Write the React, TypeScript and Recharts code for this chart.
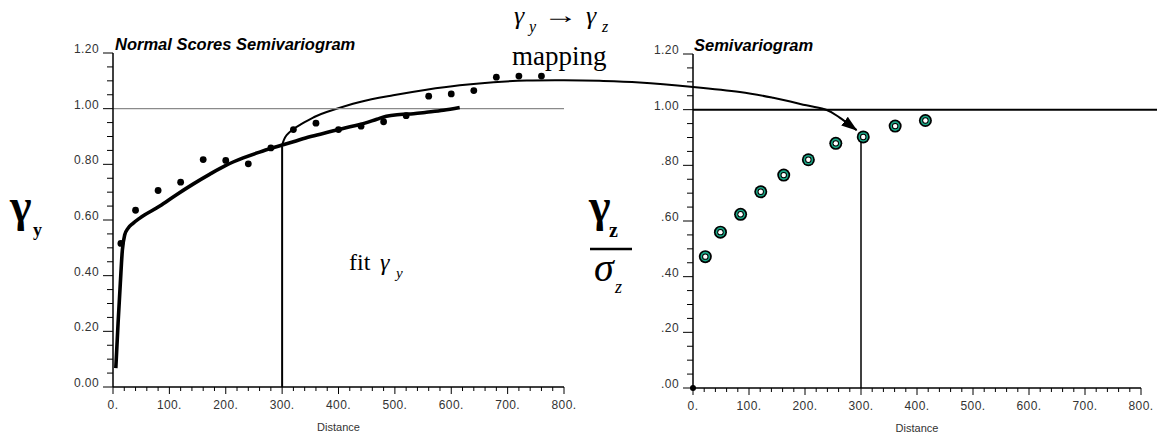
import React from 'react';
import * as Recharts from 'recharts';
import { ComposedChart, Line, Scatter, XAxis, YAxis, ReferenceLine, Customized } from 'recharts';

// distance ticks every 20, labels every 100
const distanceTicks = Array.from({ length: 41 }, (_, i) => i * 20);
const gammaTicks = Array.from({ length: 25 }, (_, i) => i * 0.05);

// experimental normal scores semivariogram
const nsLags = [14, 40, 80, 120, 160, 200, 240, 280, 320, 360, 400, 440, 480, 520, 560, 600, 640, 680, 720, 760];
const nsGamma = [0.516, 0.635, 0.706, 0.736, 0.817, 0.814, 0.802, 0.859, 0.925, 0.948, 0.925, 0.937, 0.953, 0.975, 1.045, 1.053, 1.065, 1.113, 1.117, 1.117];

// fitted model gamma_y
const fitLags = [5, 9, 13, 16.6, 20.7, 26.6, 35.5, 47, 83, 112, 142, 172, 201, 231, 260, 290, 320, 349, 379, 408, 438, 468, 485, 509, 533, 556, 586, 615];
const fitGamma = [0.068, 0.229, 0.373, 0.492, 0.546, 0.57, 0.588, 0.606, 0.65, 0.69, 0.729, 0.765, 0.797, 0.823, 0.844, 0.863, 0.881, 0.899, 0.914, 0.929, 0.943, 0.962, 0.973, 0.979, 0.982, 0.987, 0.994, 1.004];

// mapping arrow, in units of the left chart
const mapLags = [299, 303, 308, 319.5, 331, 355, 379, 438, 497, 556, 615, 675, 734, 800, 863, 934, 1029, 1112, 1171, 1230, 1266, 1289, 1319];
const mapGamma = [0.863, 0.887, 0.905, 0.926, 0.941, 0.968, 0.988, 1.024, 1.048, 1.068, 1.084, 1.095, 1.101, 1.102, 1.1, 1.094, 1.078, 1.06, 1.039, 1.012, 0.995, 0.968, 0.923];

// original units semivariogram (standardized)
const zLags = [22, 49, 85, 121, 162, 206, 255, 304, 361, 415];
const zGamma = [0.472, 0.56, 0.624, 0.705, 0.765, 0.82, 0.879, 0.902, 0.941, 0.961];

const X_MAX = 800;
const Y_MAX = 1.2;
const LEFT_PLOT = { x: 113, y: 53, width: 451, height: 334 };

const nsData = nsLags.map((x, i) => ({ x, y: nsGamma[i] }));
const fitData = fitLags.map((x, i) => ({ x, y: fitGamma[i] }));
const zData = zLags.map((x, i) => ({ x, y: zGamma[i] }));
const zOrigin = [{ x: 0, y: 0 }];

const sans = '"Liberation Sans", Arial, Helvetica, sans-serif';
const serif = '"Liberation Serif", "Times New Roman", serif';

const isMajorX = (v: number) => Math.round(v) % 100 === 0;
const isMajorY = (v: number) => Math.round(v * 100) % 20 === 0;

const XTick = (props: any) => {
  const { x, y, payload } = props;
  const v = payload.value;
  const major = isMajorX(v);
  return (
    <g>
      <line x1={x} x2={x} y1={y} y2={y + (major ? 7 : 4)} stroke="#000" strokeWidth={1} />
      {major && (
        <text x={x} y={y + 22} textAnchor="middle" fontFamily={sans} fontSize={12} fill="#333" letterSpacing={0.4}>
          {`${Math.round(v)}.`}
        </text>
      )}
    </g>
  );
};

const makeYTick = (leadingZero: boolean) => (props: any) => {
  const { x, y, payload } = props;
  const v = payload.value;
  const major = isMajorY(v);
  let label = v.toFixed(2);
  if (!leadingZero && v < 1) label = label.slice(1);
  return (
    <g>
      <line x1={x - (major ? 10 : 6)} x2={x} y1={y} y2={y} stroke="#000" strokeWidth={1} />
      {major && (
        <text x={x - 14} y={y} textAnchor="end" fontFamily={sans} fontSize={12} fill="#333" letterSpacing={0.4}>
          {label}
        </text>
      )}
    </g>
  );
};

const Dot = (props: any) => <circle cx={props.cx} cy={props.cy} r={3.4} fill="#000" />;
const OriginDot = (props: any) => <circle cx={props.cx} cy={props.cy} r={3} fill="#000" />;

const Ring = (props: any) => {
  const { cx, cy } = props;
  return (
    <g>
      <circle cx={cx} cy={cy} r={6.5} fill="#000" />
      <circle cx={cx} cy={cy} r={4.8} fill="#1aa887" />
      <circle cx={cx} cy={cy} r={3.2} fill="#000" />
      <circle cx={cx} cy={cy} r={2.2} fill="#fff" />
    </g>
  );
};

const usePlotAreaSafe: () => any = (Recharts as any).usePlotArea ?? (() => null);

// catmull-rom through points
const smoothPath = (pts: number[][]) => {
  let d = `M${pts[0][0]},${pts[0][1]}`;
  for (let i = 0; i < pts.length - 1; i++) {
    const p0 = pts[i - 1] || pts[i];
    const p1 = pts[i];
    const p2 = pts[i + 1];
    const p3 = pts[i + 2] || p2;
    const c1 = [p1[0] + (p2[0] - p0[0]) / 6, p1[1] + (p2[1] - p0[1]) / 6];
    const c2 = [p2[0] - (p3[0] - p1[0]) / 6, p2[1] - (p3[1] - p1[1]) / 6];
    d += ` C${c1[0]},${c1[1]} ${c2[0]},${c2[1]} ${p2[0]},${p2[1]}`;
  }
  return d;
};

const MappingArrow = () => {
  const area = usePlotAreaSafe() || LEFT_PLOT;
  const sx = (v: number) => area.x + (v / X_MAX) * area.width;
  const sy = (v: number) => area.y + area.height - (v / Y_MAX) * area.height;
  const pts = mapLags.map((v, i) => [sx(v), sy(mapGamma[i])]);
  return (
    <g>
      <defs>
        <marker id="mapHead" markerWidth={16} markerHeight={11} refX={15} refY={5.5} orient="auto" markerUnits="userSpaceOnUse">
          <path d="M0,0 L16,5.5 L0,11 z" fill="#000" />
        </marker>
      </defs>
      <path d={smoothPath(pts)} fill="none" stroke="#000" strokeWidth={2} markerEnd="url(#mapHead)" />
    </g>
  );
};

const axisLine = { stroke: '#000', strokeWidth: 1.5 };

const distanceLabel = { value: 'Distance', position: 'insideBottom', offset: 6, fontFamily: sans, fontSize: 11, fill: '#333' };

export default function App() {
  return (
    <div style={{ position: 'absolute', left: 0, top: 0, width: 1157, height: 444, background: '#fff', overflow: 'hidden' }}>
      <style>{`.recharts-surface { overflow: visible !important; } .recharts-wrapper { overflow: visible !important; }`}</style>

      <div style={{ position: 'absolute', left: 0, top: 0 }}>
        <ComposedChart width={600} height={444} margin={{ top: 53, right: 36, bottom: 7, left: 53 }}>
          <XAxis
            dataKey="x"
            type="number"
            domain={[0, X_MAX]}
            ticks={distanceTicks}
            interval={0}
            tick={<XTick />}
            tickLine={false}
            tickSize={0}
            tickMargin={0}
            axisLine={axisLine}
            height={50}
            label={distanceLabel}
          />
          <YAxis
            dataKey="y"
            type="number"
            domain={[0, Y_MAX]}
            ticks={gammaTicks}
            interval={0}
            tick={makeYTick(true)}
            tickLine={false}
            tickSize={0}
            tickMargin={0}
            axisLine={axisLine}
            width={60}
          />
          <ReferenceLine y={1} stroke="#8a8a8a" strokeWidth={1.2} />
          <ReferenceLine segment={[{ x: 300, y: 0 }, { x: 300, y: 0.863 }]} stroke="#000" strokeWidth={2} />
          <Line data={fitData} dataKey="y" type="monotone" stroke="#000" strokeWidth={3.6} dot={false} isAnimationActive={false} />
          <Scatter data={nsData} dataKey="y" shape={Dot} isAnimationActive={false} />
          <Customized component={MappingArrow} />
        </ComposedChart>
      </div>

      <div style={{ position: 'absolute', left: 600, top: 0 }}>
        <ComposedChart width={557} height={444} margin={{ top: 54, right: 16, bottom: 6, left: 33 }}>
          <XAxis
            dataKey="x"
            type="number"
            domain={[0, X_MAX]}
            ticks={distanceTicks}
            interval={0}
            tick={<XTick />}
            tickLine={false}
            tickSize={0}
            tickMargin={0}
            axisLine={axisLine}
            height={50}
            label={distanceLabel}
          />
          <YAxis
            dataKey="y"
            type="number"
            domain={[0, Y_MAX]}
            ticks={gammaTicks}
            interval={0}
            tick={makeYTick(false)}
            tickLine={false}
            tickSize={0}
            tickMargin={0}
            axisLine={axisLine}
            width={60}
          />
          <ReferenceLine segment={[{ x: 0, y: 1 }, { x: 830, y: 1 }]} ifOverflow="visible" stroke="#000" strokeWidth={2} />
          <ReferenceLine segment={[{ x: 300, y: 0 }, { x: 300, y: 0.902 }]} stroke="#000" strokeWidth={1.5} />
          <Scatter data={zData} dataKey="y" shape={Ring} isAnimationActive={false} />
          <Scatter data={zOrigin} dataKey="y" shape={OriginDot} isAnimationActive={false} />
        </ComposedChart>
      </div>

      <svg width={1157} height={444} style={{ position: 'absolute', left: 0, top: 0, pointerEvents: 'none' }}>
        <text x={115} y={50} fontFamily={sans} fontSize={16.5} fontWeight="bold" fontStyle="italic" fill="#000">Normal Scores Semivariogram</text>
        <text x={694} y={51} fontFamily={sans} fontSize={16.5} fontWeight="bold" fontStyle="italic" fill="#000">Semivariogram</text>

        <text x={10} y={221} fontFamily={serif} fontSize={46} fontWeight="bold" fill="#000">γ</text>
        <text x={33} y={236} fontFamily={serif} fontSize={18} fontWeight="bold" fill="#000">y</text>

        <text x={589} y={221} fontFamily={serif} fontSize={46} fontWeight="bold" fill="#000">γ</text>
        <text x={609} y={237} fontFamily={serif} fontSize={20} fontWeight="bold" fill="#000">z</text>
        <line x1={590} x2={632} y1={249} y2={249} stroke="#000" strokeWidth={2.5} />
        <text x={594} y={281} fontFamily={serif} fontSize={40} fontStyle="italic" fill="#000">σ</text>
        <text x={615} y={293} fontFamily={serif} fontSize={18} fontStyle="italic" fill="#000">z</text>

        <text x={514} y={24} fontFamily={serif} fontSize={26} fontStyle="italic" fill="#000">γ</text>
        <text x={529} y={32} fontFamily={serif} fontSize={16} fontStyle="italic" fill="#000">y</text>
        <text x={543} y={23} fontFamily={serif} fontSize={24} textLength={35} lengthAdjust="spacingAndGlyphs" fill="#000">→</text>
        <text x={586} y={24} fontFamily={serif} fontSize={26} fontStyle="italic" fill="#000">γ</text>
        <text x={602} y={32} fontFamily={serif} fontSize={16} fontStyle="italic" fill="#000">z</text>
        <text x={512} y={65} fontFamily={serif} fontSize={27} fill="#000">mapping</text>

        <text x={349} y={270} fontFamily={serif} fontSize={24} fill="#000">fit</text>
        <text x={380} y={270} fontFamily={serif} fontSize={24} fontStyle="italic" fill="#000">γ</text>
        <text x={396} y={278} fontFamily={serif} fontSize={15} fontStyle="italic" fill="#000">y</text>
      </svg>
    </div>
  );
}
